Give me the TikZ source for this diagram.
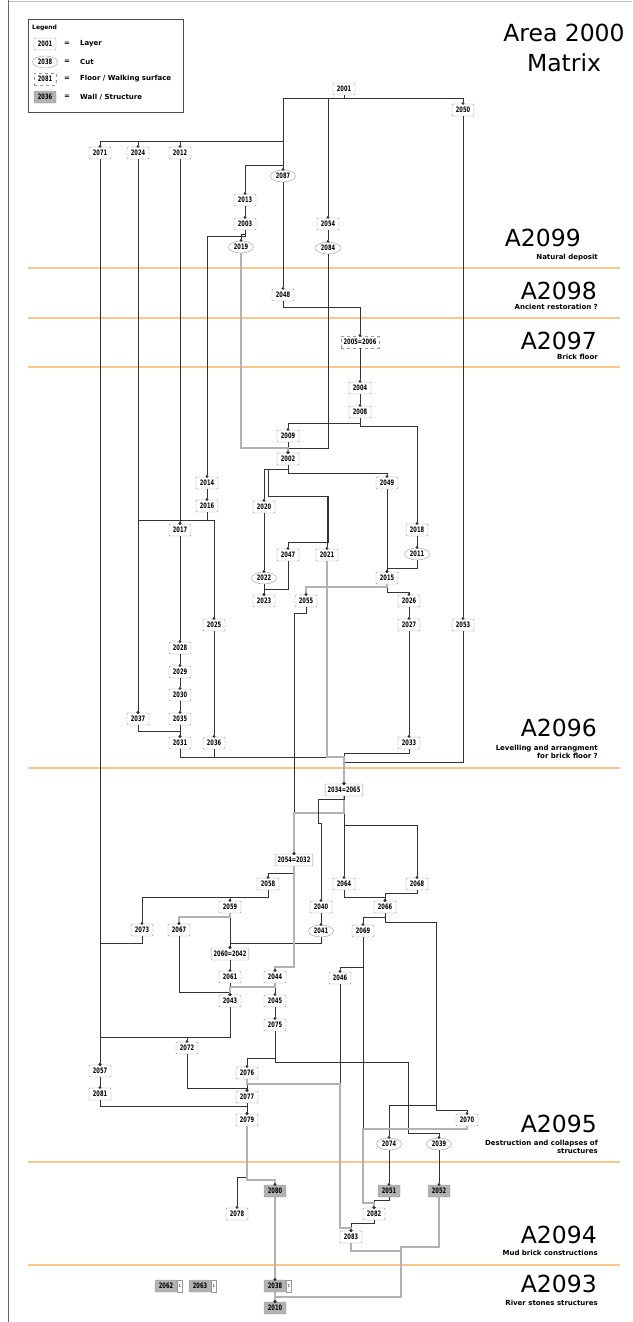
\documentclass[tikz,border=0pt]{standalone}
\usepackage{fontspec}
\setmainfont{DejaVu Sans}
\newfontfamily\unitfont[FakeStretch=0.68]{DejaVu Sans}
\usetikzlibrary{arrows.meta, positioning, shapes.geometric}
\tikzset{
  unit/.style={draw=black!40, rounded corners=1pt, minimum width=22pt, minimum height=12pt, inner xsep=2.5pt, inner ysep=1pt, font=\unitfont\bfseries\fontsize{7.5}{8}\selectfont},
  layer/.style={unit},
  cut/.style={unit, ellipse, minimum width=25pt, rounded corners=0pt, inner xsep=1pt},
  floor/.style={unit, dashed, rounded corners=0pt},
  wall/.style={unit, fill=black!30},
  sidecell/.style={draw=black!40, minimum width=5pt, minimum height=12pt, inner sep=0pt, font=\fontsize{4}{4}\selectfont},
  lk/.style={draw=black!80, line width=0.6pt, shorten >=-1pt, -{Circle[length=2.8pt]}},
  glk/.style={draw=black!30, line width=1.1pt, shorten >=-1pt, -{Circle[length=2.8pt, color=black!80]}},
  phase/.style={draw=orange!45, line width=1.2pt},
  area/.style={font=\fontsize{23.5}{26}\selectfont, anchor=east, inner sep=0pt},
  note/.style={font=\bfseries\fontsize{7}{8.5}\selectfont, anchor=east, align=right, inner sep=0pt},
  key/.style={font=\bfseries\fontsize{7}{8}\selectfont, anchor=west, inner sep=0pt},
}

\begin{document}
\begin{tikzpicture}[x=1pt, y=-1pt]
  \useasboundingbox (0,0) rectangle (632,1322);
  \draw[black!25] (8,1.5) -- (632,1.5);
  \draw[black!60] (8,0) -- (8,1322);

  % legend
  \node[draw=black!70, line width=0.6pt, minimum width=155pt, minimum height=93pt, anchor=north west, inner sep=0pt] (legend) at (28,19) {};
  \node[key, font=\bfseries\fontsize{6}{7}\selectfont] (legtitle) at (32,28) {Legend};
  \node[layer] (k1) at (45,44) {2001};
  \node[cut] (k2) at (45,62) {2038};
  \node[floor] (k3) at (45,79) {2081};
  \node[wall] (k4) at (45,97) {2036};
  \node[key] (k1e) at (64,44) {=}; \node[key] (k1t) at (80,44) {Layer};
  \node[key] (k2e) at (64,62) {=}; \node[key] (k2t) at (80,62) {Cut};
  \node[key] (k3e) at (64,79) {=}; \node[key] (k3t) at (80,79) {Floor / Walking surface};
  \node[key] (k4e) at (64,97) {=}; \node[key] (k4t) at (80,97) {Wall / Structure};

  % titles and phases
  \node[font=\fontsize{23.5}{30}\selectfont, align=center] (title) at (564,48) {Area 2000\\Matrix};
  \foreach \y in {268,318,367,768,1162,1265} \draw[phase] (28,\y) -- (620,\y);
  \node[area] (a2099) at (581,238) {A2099};
  \node[note] (d2099) at (598,258) {Natural deposit};
  \node[area] (a2098) at (597,291) {A2098};
  \node[note] (d2098) at (598,307) {Ancient restoration ?};
  \node[area] (a2097) at (597,341) {A2097};
  \node[note] (d2097) at (598,357) {Brick floor};
  \node[area] (a2096) at (597,728) {A2096};
  \node[note] (d2096) at (598,752) {Levelling and arrangment\\for brick floor ?};
  \node[area] (a2095) at (597,1124) {A2095};
  \node[note] (d2095) at (598,1147) {Destruction and collapses of\\structures};
  \node[area] (a2094) at (597,1235) {A2094};
  \node[note] (d2094) at (598,1253) {Mud brick constructions};
  \node[area] (a2093) at (597,1284) {A2093};
  \node[note] (d2093) at (598,1303) {River stones structures};

  % upper units
  \node[layer] (n2001) at (344,89) {2001};
  \node[layer] (n2050) at (463,110) {2050};
  \node[layer] (n2071) at (100,153) {2071};
  \node[layer] (n2024) at (138,153) {2024};
  \node[layer] (n2012) at (180,153) {2012};
  \node[cut] (n2087) at (283,176) {2087};
  \node[layer] (n2013) at (245,200) {2013};
  \node[layer] (n2003) at (245,224) {2003};
  \node[cut] (n2019) at (241,247) {2019};
  \node[layer] (n2054) at (328,224) {2054};
  \node[cut] (n2084) at (328,248) {2084};
  \node[layer] (n2048) at (283,295) {2048};
  \node[floor] (n2005) at (360,342) {2005=2006};
  \node[layer] (n2004) at (360,388) {2004};
  \node[layer] (n2008) at (360,412) {2008};
  \node[layer] (n2009) at (288,436) {2009};
  \node[layer] (n2002) at (288,459) {2002};
  \node[layer] (n2014) at (207,483) {2014};
  \node[layer] (n2049) at (387,483) {2049};
  \node[layer] (n2016) at (207,506) {2016};
  \node[layer] (n2020) at (264,507) {2020};
  \node[layer] (n2017) at (180,530) {2017};
  \node[layer] (n2018) at (417,530) {2018};
  \node[layer] (n2047) at (288,555) {2047};
  \node[layer] (n2021) at (327,555) {2021};
  \node[cut] (n2011) at (417,554) {2011};
  \node[cut] (n2022) at (264,578) {2022};
  \node[layer] (n2015) at (387,578) {2015};
  \node[layer] (n2023) at (264,601) {2023};
  \node[layer] (n2055) at (306,601) {2055};
  \node[layer] (n2026) at (409,601) {2026};
  \node[layer] (n2025) at (214,625) {2025};
  \node[layer] (n2027) at (409,625) {2027};
  \node[layer] (n2053) at (463,625) {2053};
  \node[layer] (n2028) at (180,648) {2028};
  \node[layer] (n2029) at (180,672) {2029};
  \node[layer] (n2030) at (180,695) {2030};
  \node[layer] (n2037) at (138,719) {2037};
  \node[layer] (n2035) at (180,719) {2035};
  \node[layer] (n2031) at (180,743) {2031};
  \node[layer] (n2036) at (214,743) {2036};
  \node[layer] (n2033) at (409,743) {2033};

  % lower units
  \node[layer] (n2034) at (344,790) {2034=2065};
  \node[layer] (n2032) at (294,860) {2054=2032};
  \node[layer] (n2058) at (268,884) {2058};
  \node[layer] (n2064) at (344,884) {2064};
  \node[layer] (n2068) at (417,884) {2068};
  \node[layer] (n2059) at (230,907) {2059};
  \node[layer] (n2040) at (321,907) {2040};
  \node[layer] (n2066) at (385,907) {2066};
  \node[layer] (n2073) at (142,930) {2073};
  \node[layer] (n2067) at (179,930) {2067};
  \node[cut] (n2041) at (321,931) {2041};
  \node[layer] (n2069) at (363,931) {2069};
  \node[layer] (n2042) at (230,954) {2060=2042};
  \node[layer] (n2061) at (230,977) {2061};
  \node[layer] (n2044) at (275,977) {2044};
  \node[layer] (n2046) at (340,978) {2046};
  \node[layer] (n2043) at (230,1001) {2043};
  \node[layer] (n2045) at (275,1001) {2045};
  \node[layer] (n2075) at (275,1025) {2075};
  \node[layer] (n2072) at (187,1048) {2072};
  \node[layer] (n2057) at (100,1071) {2057};
  \node[layer] (n2076) at (247,1073) {2076};
  \node[layer] (n2081) at (100,1094) {2081};
  \node[layer] (n2077) at (247,1097) {2077};
  \node[layer] (n2079) at (247,1120) {2079};
  \node[layer] (n2070) at (467,1120) {2070};
  \node[cut] (n2074) at (389,1144) {2074};
  \node[cut] (n2039) at (439,1144) {2039};
  \node[wall] (n2080) at (275,1191) {2080};
  \node[wall] (n2051) at (389,1191) {2051};
  \node[wall] (n2052) at (439,1191) {2052};
  \node[layer] (n2078) at (237,1214) {2078};
  \node[layer] (n2082) at (374,1214) {2082};
  \node[layer] (n2083) at (351,1237) {2083};
  \node[wall] (n2062) at (166,1286) {2062};
  \node[wall] (n2063) at (200,1286) {2063};
  \node[wall] (n2038) at (275,1286) {2038};
  \node[wall] (n2010) at (275,1308) {2010};
  \foreach \w in {n2062,n2063,n2038} \node[sidecell, right=0pt of \w] (\w-c) {1};

  % upper links
  \draw[lk] (n2001.south) -- (344,98) -| (n2050.north);
  \foreach \t in {n2054,n2087} \draw[lk] (n2001.south) -- (344,98) -| (\t.north);
  \draw[lk] (n2001.south) -- (344,98) -| (283,165) -| (n2013.north);
  \foreach \t in {n2071,n2024,n2012} \draw[lk] (n2001.south) -- (344,98) -| (283,141) -| (\t.north);
  \foreach \a/\b in {n2087/n2048, n2013/n2003, n2054/n2084, n2005/n2004, n2004/n2008, n2009/n2002,
      n2014/n2016, n2012/n2017, n2024/n2037, n2020/n2022, n2022/n2023, n2049/n2015, n2018/n2011,
      n2026/n2027, n2027/n2033, n2017/n2028, n2028/n2029, n2029/n2030, n2030/n2035, n2035/n2031,
      n2025/n2036, n2050/n2053}
    \draw[lk] (\a.south) -- (\b.north);
  \foreach \a/\x/\y/\b in {n2003/245/234/n2019, n2003/245/236/n2014, n2048/283/307/n2005,
      n2084/328/448/n2002, n2008/360/423/n2009, n2008/360/426/n2018, n2002/288/469/n2020,
      n2002/288/473/n2049, n2016/207/520/n2017, n2016/207/520/n2025, n2016/207/520/n2037,
      n2047/288/589/n2023, n2011/417/568/n2015, n2015/387/592/n2026, n2037/138/731/n2031,
      n2031/180/757/n2034, n2036/214/757/n2034, n2033/409/753/n2034, n2053/463/762/n2034,
      n2055/306/613/n2032}
    \draw[lk] (\a.south) -- (\x,\y) -| (\b.north);
  \foreach \a/\x/\y/\b in {n2019/241/448/n2002, n2015/387/587/n2055, n2021/327/757/n2034}
    \draw[glk] (\a.south) -- (\x,\y) -| (\b.north);
  \draw[lk] (n2002.south) -- (288,469) -| (268,496) -| (n2021.north);
  \draw[lk] (n2002.south) -- (288,469) -| (268,496) -| (328,542) -| (n2047.north);

  % lower links
  \foreach \a/\b in {n2034/n2064, n2040/n2041, n2059/n2042, n2042/n2061, n2061/n2043, n2044/n2045,
      n2045/n2075, n2071/n2057, n2057/n2081, n2076/n2077, n2077/n2079, n2074/n2051, n2039/n2052}
    \draw[lk] (\a.south) -- (\b.north);
  \foreach \a/\b in {n2080/n2038, n2038/n2010}
    \draw[glk] (\a.south) -- (\b.north);
  \foreach \a/\x/\y/\b in {n2034/344/825/n2068, n2032/294/873/n2058, n2064/344/897/n2066,
      n2068/417/893/n2066, n2066/385/917/n2069, n2041/321/943/n2042, n2058/268/897/n2059,
      n2058/268/897/n2073, n2067/179/992/n2043, n2069/363/967/n2046, n2069/363/1203/n2082,
      n2043/230/1037/n2057, n2043/230/1037/n2072, n2073/142/943/n2057, n2081/100/1106/n2079,
      n2072/187/1088/n2077, n2075/275/1058/n2076, n2051/389/1200/n2082, n2082/374/1223/n2083,
      n2046/340/1228/n2083, n2079/247/1177/n2078}
    \draw[lk] (\a.south) -- (\x,\y) -| (\b.north);
  \foreach \a/\x/\y/\b in {n2034/344/813/n2032, n2032/294/967/n2044, n2059/230/917/n2067,
      n2044/275/987/n2043, n2079/247/1180/n2080}
    \draw[glk] (\a.south) -- (\x,\y) -| (\b.north);
  \draw[lk] (n2034.south) -- (344,799) -| (318,823) -| (n2040.north);
  \draw[lk] (n2066.south) -- (385,922) -| (436,1110) -| (n2070.north);
  \draw[lk] (n2066.south) -- (385,922) -| (436,1105) -| (n2074.north);
  \draw[lk] (n2075.south) -- (275,1062) -| (408,1133) -| (n2039.north);
  \draw[glk] (n2070.south) -- (467,1129) -| (363,1203) -| (n2082.north);
  \draw[glk] (n2076.south) -- (247,1084) -| (340,1228) -| (n2083.north);
  \draw[glk] (n2083.south) -- (351,1251) -| (401,1297) -| (n2010.north);
  \draw[glk] (n2052.south) -- (439,1247) -| (401,1297) -| (n2010.north);
\end{tikzpicture}
\end{document}
